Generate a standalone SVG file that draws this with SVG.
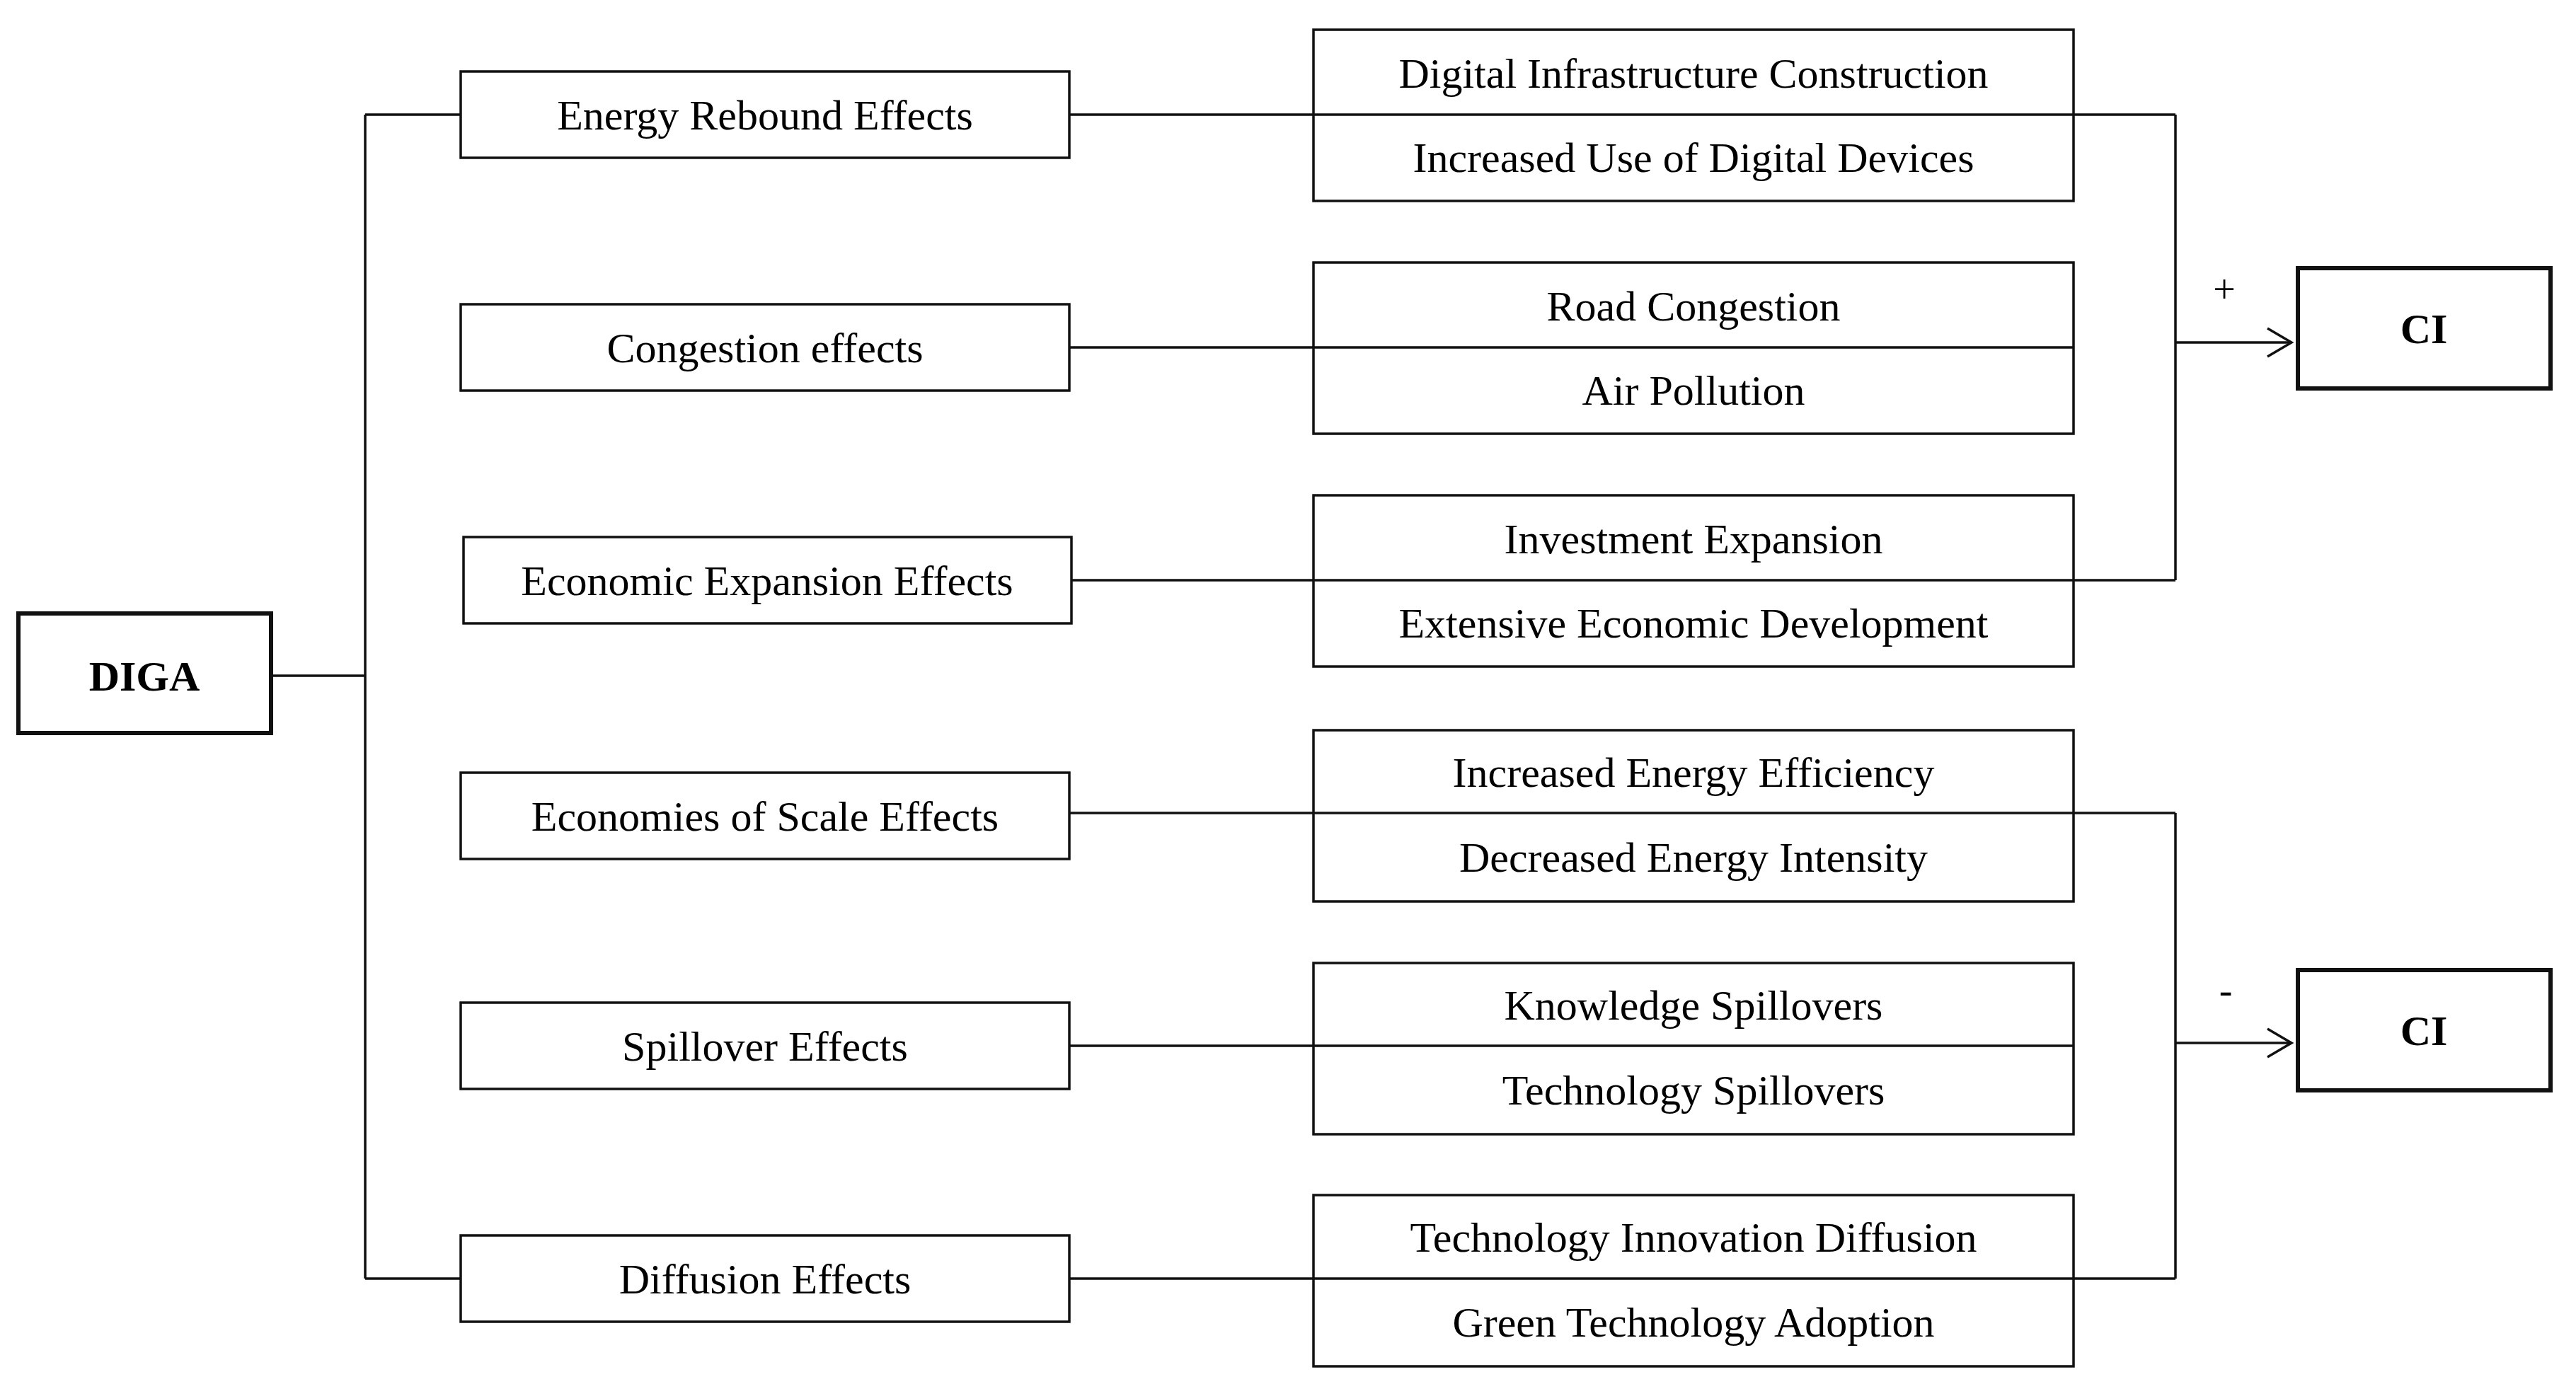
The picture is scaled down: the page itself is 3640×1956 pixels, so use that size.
<svg xmlns="http://www.w3.org/2000/svg" width="3640" height="1956" viewBox="0 0 3640 1956">
<style>
.box{fill:#fff;stroke:#111;stroke-width:3.5}
.bold{fill:#fff;stroke:#111;stroke-width:6}
.ln{fill:none;stroke:#111;stroke-width:3.5}
.t{font-family:"Liberation Serif","Times New Roman",serif;font-size:60px;fill:#000;text-anchor:middle}
.tb{font-family:"Liberation Serif","Times New Roman",serif;font-size:60px;font-weight:bold;fill:#000;text-anchor:middle}
.sg{font-family:"Liberation Serif","Times New Roman",serif;font-size:56px;fill:#000;text-anchor:middle}
</style>
<defs>
<marker id="arr" markerWidth="40" markerHeight="50" refX="36" refY="22" orient="auto" markerUnits="userSpaceOnUse">
<path d="M2,2 L36,22 L2,42" fill="none" stroke="#111" stroke-width="3.5"/>
</marker>
</defs>
<g id="connectors">
<path class="ln" d="M383,955 H516 M516,162 V1807 M516,162 H651 M516,1807 H651"/>
<path class="ln" d="M1511,162 H3074 M1511,491 H2930 M1514,820 H3074 M1511,1149 H3074 M1511,1478 H2930 M1511,1807 H3074"/>
<path class="ln" d="M3074,162 V820 M3074,1149 V1807"/>
<path class="ln" d="M3074,484 H3238" marker-end="url(#arr)"/>
<path class="ln" d="M3074,1474 H3238" marker-end="url(#arr)"/>
<text class="sg" x="3143" y="428">+</text>
<text class="sg" x="3145" y="1418">-</text>
</g>
<g id="DIGA"><rect class="bold" x="26" y="867" width="357" height="169"/><text class="tb" x="204" y="976">DIGA</text></g>
<g id="CI_pos"><rect class="bold" x="3247" y="379" width="357" height="170"/><text class="tb" x="3425" y="485">CI</text></g>
<g id="CI_neg"><rect class="bold" x="3247" y="1371" width="357" height="170"/><text class="tb" x="3425" y="1477">CI</text></g>
<g id="energy_rebound"><rect class="box" x="651" y="101" width="860" height="122"/><text class="t" x="1081" y="183">Energy Rebound Effects</text></g>
<g id="congestion"><rect class="box" x="651" y="430" width="860" height="122"/><text class="t" x="1081" y="512">Congestion effects</text></g>
<g id="economic_expansion"><rect class="box" x="655" y="759" width="859" height="122"/><text class="t" x="1084" y="841">Economic Expansion Effects</text></g>
<g id="economies_scale"><rect class="box" x="651" y="1092" width="860" height="122"/><text class="t" x="1081" y="1174">Economies of Scale Effects</text></g>
<g id="spillover"><rect class="box" x="651" y="1417" width="860" height="122"/><text class="t" x="1081" y="1499">Spillover Effects</text></g>
<g id="diffusion"><rect class="box" x="651" y="1746" width="860" height="122"/><text class="t" x="1081" y="1828">Diffusion Effects</text></g>
<g id="r1"><rect class="box" x="1856" y="42" width="1074" height="242"/><line class="ln" x1="1856" y1="162" x2="2930" y2="162"/><text class="t" x="2393" y="124">Digital Infrastructure Construction</text><text class="t" x="2393" y="243">Increased Use of Digital Devices</text></g>
<g id="r2"><rect class="box" x="1856" y="371" width="1074" height="242"/><line class="ln" x1="1856" y1="491" x2="2930" y2="491"/><text class="t" x="2393" y="453">Road Congestion</text><text class="t" x="2393" y="572">Air Pollution</text></g>
<g id="r3"><rect class="box" x="1856" y="700" width="1074" height="242"/><line class="ln" x1="1856" y1="820" x2="2930" y2="820"/><text class="t" x="2393" y="782">Investment Expansion</text><text class="t" x="2393" y="901">Extensive Economic Development</text></g>
<g id="r4"><rect class="box" x="1856" y="1032" width="1074" height="242"/><line class="ln" x1="1856" y1="1149" x2="2930" y2="1149"/><text class="t" x="2393" y="1112">Increased Energy Efficiency</text><text class="t" x="2393" y="1232">Decreased Energy Intensity</text></g>
<g id="r5"><rect class="box" x="1856" y="1361" width="1074" height="242"/><line class="ln" x1="1856" y1="1478" x2="2930" y2="1478"/><text class="t" x="2393" y="1441">Knowledge Spillovers</text><text class="t" x="2393" y="1561">Technology Spillovers</text></g>
<g id="r6"><rect class="box" x="1856" y="1689" width="1074" height="242"/><line class="ln" x1="1856" y1="1807" x2="2930" y2="1807"/><text class="t" x="2393" y="1769">Technology Innovation Diffusion</text><text class="t" x="2393" y="1889">Green Technology Adoption</text></g>
</svg>
